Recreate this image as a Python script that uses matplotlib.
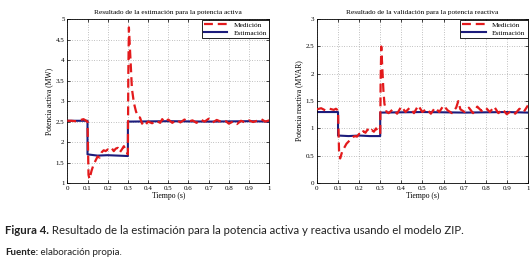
import matplotlib
matplotlib.use("Agg")
import matplotlib.pyplot as plt
from matplotlib.ticker import FormatStrFormatter, MultipleLocator

# Potencia activa - medición
t_p_med = [0, 0.02, 0.04, 0.06, 0.08, 0.09, 0.1, 0.105, 0.11, 0.12, 0.13, 0.14, 0.15,
           0.16, 0.17, 0.18, 0.19, 0.2, 0.21, 0.22, 0.23, 0.24, 0.25, 0.26, 0.27, 0.28,
           0.29, 0.3, 0.302, 0.305, 0.31, 0.315, 0.32, 0.33, 0.34, 0.35, 0.36, 0.37,
           0.38, 0.39, 0.4, 0.42, 0.44, 0.46, 0.47, 0.48, 0.5, 0.52, 0.54, 0.56, 0.58,
           0.6, 0.62, 0.64, 0.66, 0.68, 0.7, 0.72, 0.74, 0.76, 0.78, 0.8, 0.82, 0.84,
           0.86, 0.88, 0.9, 0.92, 0.94, 0.96, 0.98, 1.0]
p_med = [2.52, 2.52, 2.51, 2.53, 2.56, 2.53, 2.5, 1.2, 1.1, 1.3, 1.45, 1.55, 1.65,
         1.62, 1.75, 1.8, 1.78, 1.82, 1.8, 1.85, 1.78, 1.84, 1.86, 1.75, 1.82, 1.9,
         1.8, 1.7, 3.6, 4.8, 4.3, 3.8, 3.3, 2.95, 2.75, 2.62, 2.6, 2.45, 2.5, 2.44,
         2.5, 2.46, 2.52, 2.47, 2.56, 2.49, 2.55, 2.47, 2.54, 2.48, 2.55, 2.5, 2.53,
         2.47, 2.55, 2.5, 2.57, 2.48, 2.54, 2.5, 2.53, 2.45, 2.5, 2.44, 2.52, 2.48,
         2.53, 2.49, 2.52, 2.56, 2.5, 2.53]

# Potencia activa - estimación
t_p_est = [0, 0.1, 0.1, 0.15, 0.2, 0.25, 0.3, 0.3, 0.5, 0.7, 0.9, 1.0]
p_est = [2.52, 2.52, 1.7, 1.67, 1.68, 1.67, 1.66, 2.5, 2.51, 2.5, 2.51, 2.5]

# Potencia reactiva - medición
t_q_med = [0, 0.02, 0.04, 0.06, 0.08, 0.09, 0.1, 0.105, 0.11, 0.12, 0.13, 0.14, 0.15,
           0.16, 0.17, 0.18, 0.19, 0.2, 0.21, 0.22, 0.23, 0.24, 0.25, 0.26, 0.27, 0.28,
           0.29, 0.3, 0.302, 0.305, 0.31, 0.315, 0.32, 0.33, 0.34, 0.36, 0.38, 0.4,
           0.42, 0.44, 0.46, 0.48, 0.5, 0.52, 0.54, 0.56, 0.58, 0.6, 0.62, 0.64, 0.66,
           0.67, 0.68, 0.7, 0.72, 0.74, 0.76, 0.78, 0.8, 0.82, 0.84, 0.86, 0.88, 0.9,
           0.92, 0.94, 0.96, 0.98, 1.0]
q_med = [1.35, 1.37, 1.33, 1.36, 1.34, 1.36, 1.33, 0.55, 0.45, 0.58, 0.65, 0.72, 0.76,
         0.8, 0.84, 0.86, 0.85, 0.9, 0.88, 0.95, 0.92, 0.98, 0.93, 0.97, 0.94, 1.0,
         0.95, 0.9, 1.9, 2.5, 2.1, 1.7, 1.45, 1.3, 1.28, 1.35, 1.27, 1.4, 1.3, 1.38,
         1.28, 1.42, 1.3, 1.36, 1.27, 1.38, 1.3, 1.42, 1.33, 1.28, 1.38, 1.5, 1.35,
         1.3, 1.38, 1.28, 1.4, 1.32, 1.38, 1.3, 1.4, 1.28, 1.35, 1.26, 1.32, 1.27,
         1.36, 1.3, 1.42]

# Potencia reactiva - estimación
t_q_est = [0, 0.1, 0.1, 0.15, 0.2, 0.25, 0.3, 0.3, 0.5, 0.7, 0.9, 1.0]
q_est = [1.3, 1.3, 0.87, 0.86, 0.87, 0.86, 0.86, 1.29, 1.3, 1.29, 1.3, 1.29]

x_ticks = [0, 0.1, 0.2, 0.3, 0.4, 0.5, 0.6, 0.7, 0.8, 0.9, 1.0]

plt.rcParams["font.family"] = ["Liberation Serif", "DejaVu Serif"]

fig = plt.figure(figsize=(5.3, 2.7), dpi=100)
ax1 = fig.add_axes([0.127, 0.322, 0.381, 0.607])
ax2 = fig.add_axes([0.598, 0.322, 0.398, 0.607])

red = "#e31a1c"
navy = "#1c1c7c"


def dibujar(ax, t_med, med, t_est, est, ylim, ystep, titulo, ylabel):
    ax.plot(t_med, med, color=red, lw=1.6, dashes=(4, 2.2), label="Medición", zorder=3)
    ax.plot(t_est, est, color=navy, lw=1.5, label="Estimación", zorder=2)
    ax.set_xlim(0, 1)
    ax.set_ylim(*ylim)
    ax.set_xticks(x_ticks)
    ax.yaxis.set_major_locator(MultipleLocator(ystep))
    ax.xaxis.set_major_formatter(FormatStrFormatter("%g"))
    ax.yaxis.set_major_formatter(FormatStrFormatter("%g"))
    ax.tick_params(direction="in", labelsize=5, length=2, width=0.5, pad=2,
                   top=True, right=True)
    ax.grid(True, ls=(0, (1, 2.5)), color="#888888", lw=0.5)
    ax.set_title(titulo, fontsize=5.3, pad=4)
    ax.set_xlabel("Tiempo (s)", fontsize=5.5, labelpad=1)
    ax.set_ylabel(ylabel, fontsize=5.5, labelpad=2)
    for s in ax.spines.values():
        s.set_linewidth(0.6)
    leg = ax.legend(loc="upper right", fontsize=5.3, fancybox=False, framealpha=1,
                    edgecolor="black", borderpad=0.3, handlelength=3.2,
                    labelspacing=0.2, borderaxespad=0.05)
    leg.get_frame().set_linewidth(0.6)


dibujar(ax1, t_p_med, p_med, t_p_est, p_est, (1, 5), 0.5,
        "Resultado de la estimación para la potencia activa", "Potencia activa (MW)")
dibujar(ax2, t_q_med, q_med, t_q_est, q_est, (0, 3), 0.5,
        "Resultado de la validación para la potencia reactiva", "Potencia reactiva (MVAR)")

# pie de figura
cap = fig.text(0.01, 0.148, "Figura 4.", fontsize=8.2, fontweight="bold",
               family="Lato", va="center", color="#222222")
fig.canvas.draw()
ax1.annotate(" Resultado de la estimación para la potencia activa y reactiva usando el modelo ZIP.",
             xy=(1, 0), xycoords=cap, va="bottom", fontsize=8.2, family="Lato",
             color="#222222", annotation_clip=False)
src = fig.text(0.01, 0.063, "Fuente:", fontsize=7, fontweight="bold",
               family="Lato", va="center", color="#222222")
ax1.annotate(" elaboración propia.", xy=(1, 0), xycoords=src, va="bottom",
             fontsize=7, family="Lato", color="#222222", annotation_clip=False)

fig.savefig("out.png", dpi=100)
